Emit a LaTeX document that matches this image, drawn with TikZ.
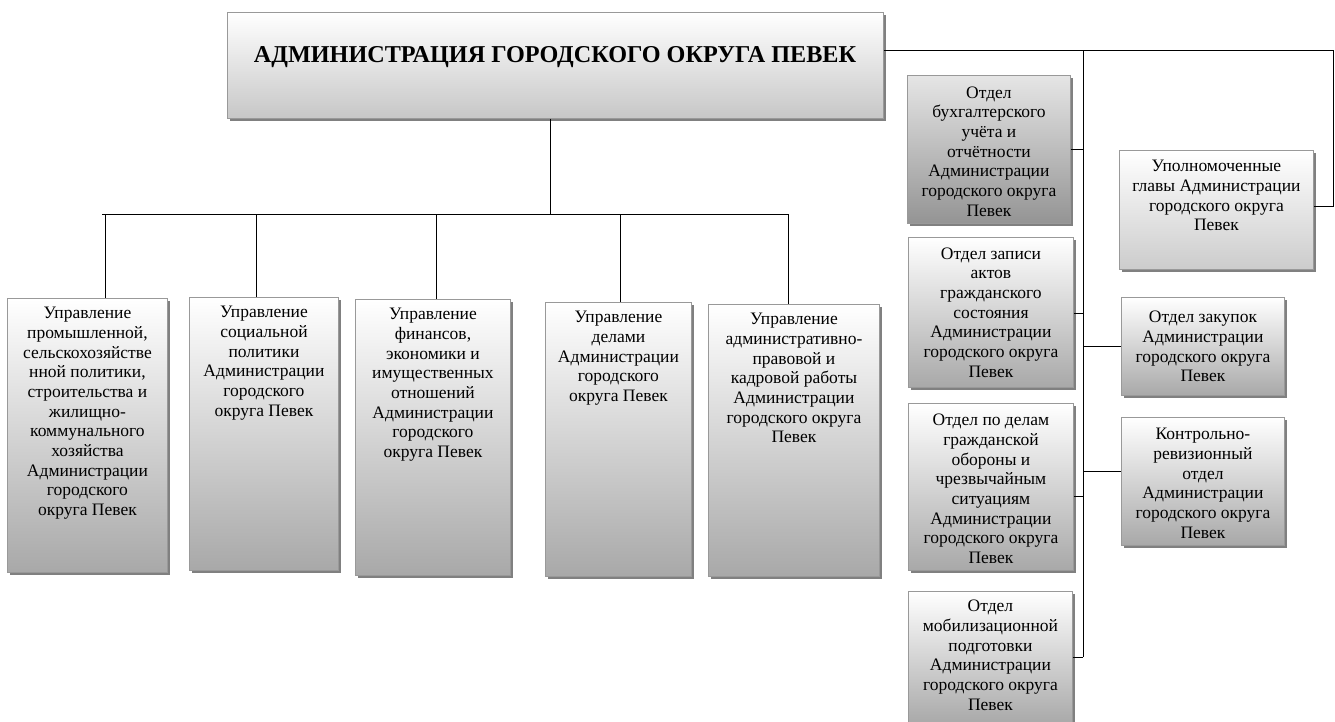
\documentclass[tikz,border=0pt]{standalone}
\usepackage{fontspec}
\setmainfont{Liberation Serif}
\usetikzlibrary{shadows}
\tikzset{
  box/.style={draw=black!40, line width=0.9pt, top color=white, bottom color=black!34,
    drop shadow={shadow xshift=2.5pt, shadow yshift=-2.5pt, fill=black!50, opacity=1},
    anchor=north west, inner sep=0pt},
  txt/.style={align=center, inner sep=0pt, font=\fontsize{17.5}{19.7}\selectfont},
  conn/.style={draw=black, line width=1pt}
}
\begin{document}
\begin{tikzpicture}[x=1pt,y=-1pt]
\useasboundingbox (0,0) rectangle (1335,722);
% top box
\node[box, bottom color=black!22, minimum width=656pt, minimum height=106pt] (top) at (227,12) {};
\node[inner sep=0pt, font=\bfseries\fontsize{24.2}{28}\selectfont] (title) at (555,57) {АДМИНИСТРАЦИЯ ГОРОДСКОГО ОКРУГА ПЕВЕК};
% left boxes
\node[box, minimum width=160pt, minimum height=274pt] (b1) at (7,298) {};
\node[txt, anchor=north] (b1t) at ([yshift=-9pt]b1.north) {Управление\\промышленной,\\сельскохозяйстве\\нной политики,\\строительства и\\жилищно-\\коммунального\\хозяйства\\Администрации\\городского\\округа Певек};
\node[box, minimum width=149pt, minimum height=273pt] (b2) at (189,297) {};
\node[txt, anchor=north] (b2t) at ([yshift=-9pt]b2.north) {Управление\\социальной\\политики\\Администрации\\городского\\округа Певек};
\node[box, minimum width=155pt, minimum height=276pt] (b3) at (355,299) {};
\node[txt, anchor=north] (b3t) at ([yshift=-9pt]b3.north) {Управление\\финансов,\\экономики и\\имущественных\\отношений\\Администрации\\городского\\округа Певек};
\node[box, minimum width=146pt, minimum height=274pt] (b4) at (545,302) {};
\node[txt, anchor=north] (b4t) at ([yshift=-9pt]b4.north) {Управление\\делами\\Администрации\\городского\\округа Певек};
\node[box, minimum width=171pt, minimum height=272pt] (b5) at (708,304) {};
\node[txt, anchor=north] (b5t) at ([yshift=-9pt]b5.north) {Управление\\административно-\\правовой и\\кадровой работы\\Администрации\\городского округа\\Певек};
% right boxes
\node[box, top color=black!10, bottom color=black!42, minimum width=163pt, minimum height=148pt] (r1) at (907,75) {};
\node[txt] (r1t) at ([yshift=-2pt]r1.center) {Отдел\\бухгалтерского\\учёта и\\отчётности\\Администрации\\городского округа\\Певек};
\node[box, minimum width=165pt, minimum height=150pt] (r2) at (908,237) {};
\node[txt] (r2t) at (r2.center) {Отдел записи\\актов\\гражданского\\состояния\\Администрации\\городского округа\\Певек};
\node[box, minimum width=165pt, minimum height=167pt] (r3) at (908,403) {};
\node[txt] (r3t) at ([yshift=-2pt]r3.center) {Отдел по делам\\гражданской\\обороны и\\чрезвычайным\\ситуациям\\Администрации\\городского округа\\Певек};
\node[box, minimum width=164pt, minimum height=133pt] (r4) at (908,591) {};
\node[txt, anchor=north] (r4t) at ([yshift=-9pt]r4.north) {Отдел\\мобилизационной\\подготовки\\Администрации\\городского округа\\Певек};
\node[box, bottom color=black!20, minimum width=194pt, minimum height=119pt] (u) at (1119,150) {};
\node[txt, anchor=north] (ut) at ([yshift=-10pt]u.north) {Уполномоченные\\главы Администрации\\городского округа\\Певек};
\node[box, minimum width=163pt, minimum height=98pt] (z) at (1121,297) {};
\node[txt] (zt) at (z.center) {Отдел закупок\\Администрации\\городского округа\\Певек};
\node[box, minimum width=163pt, minimum height=128pt] (k) at (1121,417) {};
\node[txt] (kt) at ([yshift=-2pt]k.center) {Контрольно-\\ревизионный\\отдел\\Администрации\\городского округа\\Певек};
% coordinates
\coordinate (tdown) at (550,214);
\coordinate (busL) at (102,214);
\coordinate (d1) at (105,214);
\coordinate (d2) at (256,214);
\coordinate (d3) at (436,214);
\coordinate (d4) at (620,214);
\coordinate (d5) at (788,214);
\coordinate (rt) at (1333,51);
\coordinate (ur) at (1333,206);
\coordinate (sp0) at (1083,51);
\coordinate (sp1) at (1083,657);
% left connectors
\draw[conn] (top.south -| tdown) -- (tdown);
\draw[conn] (busL) -- (d5);
\draw[conn] (d1) -- (d1 |- b1.north);
\draw[conn] (d2) -- (d2 |- b2.north);
\draw[conn] (d3) -- (d3 |- b3.north);
\draw[conn] (d4) -- (d4 |- b4.north);
\draw[conn] (d5) -- (d5 |- b5.north);
% right connectors
\draw[conn] (rt -| top.east) -- (rt) -- (ur) -- (ur -| u.east);
\draw[conn] (sp0) -- (sp1);
\draw[conn] (r1.east) -- (r1.east -| sp0);
\draw[conn] ([yshift=-1pt]r2.east) -- ([yshift=-1pt]r2.east -| sp0);
\draw[conn] ([yshift=-9.5pt]r3.east) -- ([yshift=-9.5pt]r3.east -| sp0);
\draw[conn] (r4.east |- sp1) -- (sp1);
\draw[conn] (z.west -| sp0) -- (z.west);
\draw[conn] ([yshift=10pt]k.west -| sp0) -- ([yshift=10pt]k.west);
\end{tikzpicture}
\end{document}
